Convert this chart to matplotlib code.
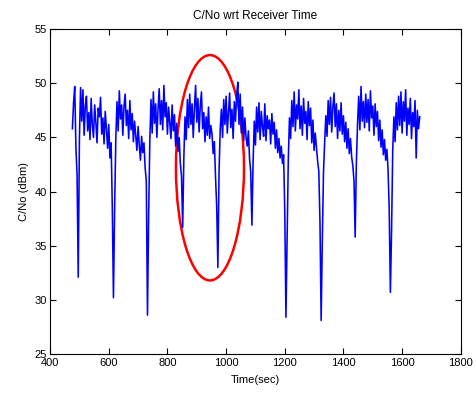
import numpy as np
import matplotlib
matplotlib.use('Agg')
import matplotlib.pyplot as plt
from matplotlib.patches import Ellipse

plt.rcParams['font.family'] = ['Liberation Sans', 'DejaVu Sans']

# Receiver time grid (sec) and C/No readings (dBm)
time_start = 476
time_step = 4
cno = [
    45.8, 48.2, 49.7, 44.1, 41.5, 32.1, 44.9, 49.6, 46.5, 49.4,
    45.2, 47.9, 48.8, 45.6, 47.3, 44.8, 48.6, 46.1, 45.0, 48.0,
    46.4, 44.5, 47.7, 46.9, 48.7, 45.3, 46.8, 44.4, 47.4, 45.8,
    44.0, 46.2, 43.1, 44.5, 38.7, 30.2, 38.4, 44.8, 48.3, 45.6,
    49.3, 46.7, 48.0, 45.2, 47.9, 49.0, 46.1, 47.5, 44.9, 48.4,
    45.7, 47.2, 44.6, 46.5, 45.1, 43.8, 46.0, 44.3, 42.9, 45.1,
    43.6, 44.5, 42.2, 41.0, 28.6, 37.9, 44.7, 48.5, 45.4, 49.2,
    46.3, 48.1, 45.0, 47.6, 49.5, 46.2, 48.4, 45.7, 49.8, 46.9,
    48.2, 45.3, 47.8, 46.4, 44.9, 48.0, 45.6, 47.1, 44.2, 46.3,
    43.7, 45.0, 42.6, 41.4, 36.7, 43.2, 46.9, 44.8, 48.5, 45.9,
    49.0, 46.2, 48.1, 45.0, 47.7, 49.8, 46.4, 48.6, 45.5, 47.9,
    49.2, 45.8, 47.3, 44.6, 46.9, 45.2, 47.8, 44.9, 46.1, 45.3,
    43.5, 44.6, 41.3, 38.6, 33.0, 41.9, 45.8, 47.6, 45.0, 48.5,
    46.2, 48.8, 45.4, 47.3, 49.1, 45.9, 47.6, 44.9, 48.3, 46.5,
    48.9, 50.1, 46.2, 49.0, 45.4, 47.8, 44.7, 46.8, 45.0, 44.2,
    45.6, 43.0, 41.8, 36.9, 42.7, 46.5, 44.3, 47.8, 45.5, 48.2,
    44.8, 47.4, 46.0, 45.1, 48.1, 44.7, 47.0, 45.8, 46.6, 44.4,
    47.2, 45.3, 46.4, 44.0, 45.7, 43.6, 44.9, 43.1, 44.2, 42.6,
    43.4, 38.2, 28.4, 35.8, 42.9, 46.8, 44.9, 48.4, 46.0, 49.2,
    45.6, 48.0, 46.7, 49.4, 45.8, 47.9, 45.2, 48.6, 46.3, 47.4,
    44.8, 48.3, 46.1, 47.7, 44.5, 46.6, 43.8, 45.4, 44.1, 42.8,
    41.9, 37.2, 28.1, 35.5, 41.8, 44.6, 47.0, 45.1, 48.4, 46.2,
    48.7, 45.5, 47.8, 49.1, 46.0, 48.1, 44.9, 47.5, 45.6, 48.2,
    45.3, 47.0, 44.6, 46.4, 44.0, 45.8, 43.5, 44.9, 43.2, 42.4,
    41.0, 35.8, 42.6, 46.2, 48.8, 45.7, 49.7, 46.5, 48.3, 45.9,
    49.0, 46.4, 48.5, 45.6, 49.3, 46.8, 47.9, 45.2, 48.1, 46.0,
    47.4, 44.7, 46.6, 44.1, 45.7, 43.4, 44.8, 42.9, 43.9, 42.1,
    38.4, 30.7, 36.3, 43.8, 46.9, 44.6, 48.2, 45.7, 48.8, 46.1,
    49.2, 45.4, 48.3, 46.5, 49.4, 45.2, 47.7, 46.2, 48.6, 44.9,
    47.3, 46.0, 48.4, 43.1, 47.5, 45.8, 46.9,
]
time = time_start + time_step * np.arange(len(cno))

# highlighted region (center time, center C/No, width, height)
mark_center = (945, 42.2)
mark_width = 232
mark_height = 20.8

fig = plt.figure(figsize=(4.77, 3.93), dpi=100)
ax = fig.add_axes([0.105, 0.099, 0.861, 0.827])

ax.plot(time, cno, color='#0000FF', linewidth=1.15)
ax.add_patch(Ellipse(mark_center, mark_width, mark_height, fill=False,
                     edgecolor='#FF0000', linewidth=1.8))

ax.set_xlim(400, 1800)
ax.set_ylim(25, 55)
ax.set_xticks(range(400, 1801, 200))
ax.set_yticks(range(25, 56, 5))
ax.tick_params(direction='in', top=True, right=True, length=4, labelsize=8)
ax.tick_params(axis='x', pad=3)
ax.tick_params(axis='y', pad=2)
for s in ax.spines.values():
    s.set_linewidth(0.8)

ax.set_title('C/No wrt Receiver Time', fontsize=8.5, pad=7)
ax.set_xlabel('Time(sec)', fontsize=8, labelpad=5)
ax.set_ylabel('C/No (dBm)', fontsize=8, labelpad=4)

fig.savefig('out.png', dpi=100)
